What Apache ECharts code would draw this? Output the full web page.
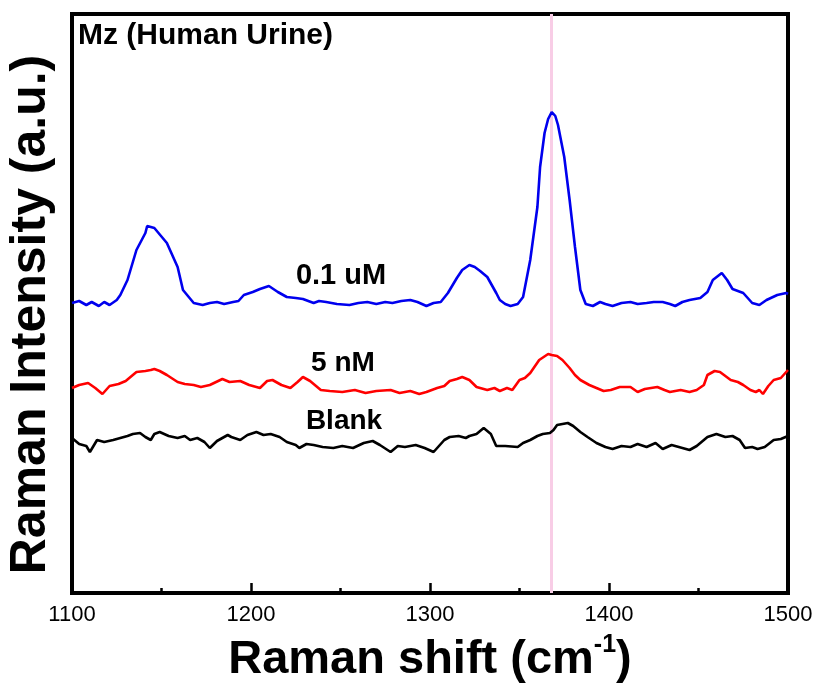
<!DOCTYPE html>
<html>
<head>
<meta charset="utf-8">
<script src="https://cdn.jsdelivr.net/npm/echarts@6/dist/echarts.min.js"></script>
<style>
  html, body { margin: 0; padding: 0; background: #fff; }
  #chart { width: 818px; height: 687px; }
</style>
</head>
<body>
<div id="chart"></div>
<script>
// Raman spectra, Mz in human urine (x = Raman shift cm-1, y = intensity a.u.)
var xTicks = [1100, 1200, 1300, 1400, 1500];
var markShift = 1368;

var uM01 = [
  [1100,290],[1104,292],[1108,288],[1111,291],[1115,287],[1118,291],[1121,288],[1125,293],
  [1127,298],[1131,313],[1136,343],[1141,360],[1142,367],[1144,366],[1146,365],[1153,350],
  [1159,326],[1162,303],[1168,290],[1173,288],[1177,290],[1181,291],[1185,289],[1190,291],
  [1193,292],[1196,298],[1201,301],[1205,304],[1210,307],[1215,301],[1220,296],[1225,295],
  [1229,294],[1235,290],[1238,292],[1242,291],[1248,289],[1255,288],[1260,290],[1265,291],
  [1270,289],[1275,291],[1279,290],[1284,292],[1289,293],[1293,291],[1298,287],[1302,290],
  [1306,291],[1310,300],[1315,315],[1318,323],[1322,328],[1325,326],[1328,322],[1332,316],
  [1337,300],[1339,293],[1342,289],[1345,287],[1349,289],[1352,296],[1356,333],[1360,386],
  [1361.5,426],[1364,460],[1366,474],[1368,481],[1370,477],[1371.5,468],[1375,436],[1378,393],
  [1381,346],[1384,303],[1387,289],[1391,287],[1395,291],[1398,289],[1402,287],[1407,290],
  [1412,291],[1416,289],[1421,290],[1425,291],[1430,291],[1434,289],[1437,287],[1441,291],
  [1445,293],[1451,295],[1455,301],[1458,313],[1463,320],[1466,313],[1469,304],[1475,300],
  [1480,290],[1484,288],[1488,293],[1494,298],[1499,300],[1500,299]
];

var nM5 = [
  [1100,205],[1104,208],[1109,210],[1113,205],[1117,199],[1121,207],[1126,209],[1130,212],
  [1132,215],[1136,221],[1141,222],[1144,223],[1146,224],[1149,222],[1153,218],[1159,211],
  [1163,209],[1168,208],[1172,206],[1177,208],[1184,214],[1188,211],[1194,212],[1199,208],
  [1205,205],[1209,212],[1212,213],[1217,208],[1222,205],[1226,211],[1229,216],[1233,212],
  [1239,203],[1244,202],[1251,201],[1258,203],[1264,200],[1270,202],[1278,203],[1283,200],
  [1289,202],[1294,199],[1298,201],[1304,205],[1308,207],[1311,212],[1315,214],[1318,216],
  [1322,213],[1326,206],[1332,203],[1336,205],[1339,202],[1343,205],[1346,203],[1350,213],
  [1353,215],[1356,220],[1361,233],[1366,239],[1368,238],[1371,237],[1374,233],[1378,225],
  [1381,218],[1384,213],[1389,208],[1393,205],[1397,202],[1401,203],[1406,206],[1412,206],
  [1416,201],[1420,204],[1427,206],[1431,203],[1434,201],[1440,203],[1445,201],[1449,203],
  [1453,208],[1455,218],[1459,222],[1462,221],[1468,213],[1472,211],[1475,208],[1479,203],
  [1482,201],[1484,203],[1486,199],[1489,207],[1492,213],[1496,215],[1500,223]
];

var blank = [
  [1100,155],[1104,149],[1108,147],[1110,141],[1114,153],[1118,151],[1123,153],[1127,155],
  [1131,157],[1134,159],[1138,160],[1141,156],[1144,153],[1146,159],[1149,161],[1154,157],
  [1159,155],[1163,157],[1166,153],[1170,155],[1174,151],[1177,145],[1181,152],[1187,158],
  [1189,156],[1194,153],[1198,158],[1203,161],[1207,158],[1211,159],[1216,156],[1220,151],
  [1225,148],[1227,145],[1231,149],[1235,148],[1240,146],[1246,145],[1251,147],[1257,145],
  [1263,150],[1268,152],[1272,148],[1278,141],[1282,147],[1286,146],[1292,148],[1297,145],
  [1302,141],[1306,149],[1308,153],[1311,156],[1316,157],[1320,155],[1322,157],[1326,159],
  [1330,165],[1334,159],[1337,147],[1342,147],[1349,146],[1352,150],[1356,153],[1360,157],
  [1363,159],[1367,160],[1369,163],[1371,168],[1374,169],[1377,170],[1380,167],[1384,161],
  [1388,156],[1393,150],[1398,146],[1402,144],[1407,147],[1412,146],[1416,149],[1421,146],
  [1426,150],[1430,144],[1435,148],[1441,145],[1445,143],[1449,147],[1453,153],[1455,156],
  [1460,159],[1465,156],[1469,157],[1473,153],[1476,145],[1480,146],[1483,144],[1487,146],
  [1492,153],[1496,154],[1500,157]
];

var chart = echarts.init(document.getElementById('chart'));

var font = 'Liberation Sans, Arial, sans-serif';

var option = {
  backgroundColor: '#ffffff',
  animation: false,
  grid: {
    left: 72, right: 30, top: 14, bottom: 94,
    outerBoundsMode: 'none',
    show: true, borderColor: '#000', borderWidth: 4, backgroundColor: 'transparent'
  },
  xAxis: {
    type: 'value',
    min: xTicks[0], max: xTicks[xTicks.length - 1], interval: 100,
    axisLine: { show: true, onZero: false, lineStyle: { color: '#000', width: 4 } },
    axisTick: { show: true, inside: true, length: 10, lineStyle: { color: '#000', width: 2.5 } },
    minorTick: { show: true, splitNumber: 2, length: 5, lineStyle: { color: '#000', width: 2.5 } },
    splitLine: { show: false },
    axisLabel: {
      color: '#000', fontSize: 22, fontFamily: font, margin: 11,
      formatter: function (v) { return String(v); }
    },
    name: '{a|Raman shift (cm}{s|-1}{a|)}',
    nameLocation: 'middle',
    nameGap: 40,
    nameTextStyle: {
      rich: {
        a: { fontSize: 47, fontWeight: 'bold', fontFamily: font, color: '#000', lineHeight: 54 },
        s: { fontSize: 25, fontWeight: 'bold', fontFamily: font, color: '#000', verticalAlign: 'top', lineHeight: 54, padding: [0, 0, 20, 0] }
      }
    }
  },
  yAxis: {
    type: 'value',
    min: 0, max: 579,
    axisLine: { show: false },
    axisTick: { show: false },
    axisLabel: { show: false },
    splitLine: { show: false },
    name: 'Raman Intensity (a.u.)',
    nameLocation: 'middle',
    nameGap: 16,
    nameTextStyle: { fontSize: 50, fontWeight: 'bold', fontFamily: font, color: '#000', padding: [0, 22, 0, 0] }
  },
  series: [
    {
      type: 'line', data: [], z: 1, silent: true,
      markLine: {
        silent: true, symbol: 'none', z: 1, label: { show: false },
        lineStyle: { color: '#f8cde6', width: 3, type: 'solid' },
        data: [{ xAxis: markShift }]
      }
    },
    {
      name: 'Blank', type: 'line', data: blank, showSymbol: false, z: 3,
      lineStyle: { color: '#000', width: 2.6 }
    },
    {
      name: '5 nM', type: 'line', data: nM5, showSymbol: false, z: 3,
      lineStyle: { color: '#ff0000', width: 2.6 }
    },
    {
      name: '0.1 uM', type: 'line', data: uM01, showSymbol: false, z: 3,
      lineStyle: { color: '#0000ee', width: 2.6 }
    }
  ],
  graphic: [
    { type: 'text', left: 78, top: 21, style: { text: 'Mz (Human Urine)', font: 'bold 30px ' + font, fill: '#000' } },
    { type: 'text', x: 341, y: 276, style: { text: '0.1 uM', font: 'bold 29px ' + font, fill: '#000', align: 'center', verticalAlign: 'middle' } },
    { type: 'text', x: 343, y: 363, style: { text: '5 nM', font: 'bold 28px ' + font, fill: '#000', align: 'center', verticalAlign: 'middle' } },
    { type: 'text', x: 344, y: 421, style: { text: 'Blank', font: 'bold 28px ' + font, fill: '#000', align: 'center', verticalAlign: 'middle' } }
  ]
};

chart.setOption(option);
</script>
</body>
</html>
